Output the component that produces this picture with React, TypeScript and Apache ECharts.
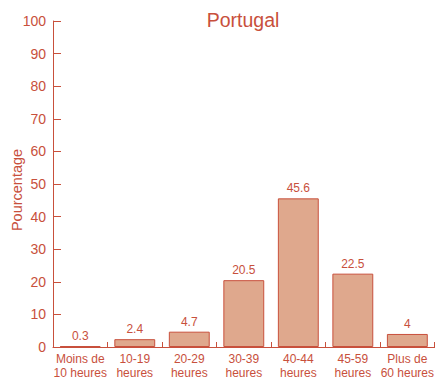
import React, { useEffect, useRef } from "react";
import * as echarts from "echarts";

const categories = [
  "Moins de\n10 heures",
  "10-19\nheures",
  "20-29\nheures",
  "30-39\nheures",
  "40-44\nheures",
  "45-59\nheures",
  "Plus de\n60 heures",
];
const values = [0.3, 2.4, 4.7, 20.5, 45.6, 22.5, 4];
const valueLabels = ["0.3", "2.4", "4.7", "20.5", "45.6", "22.5", "4"];

const RED = "#c8503c";
const FILL = "#dfa88d";
const FONT = "'Liberation Sans', Arial, Helvetica, sans-serif";

export default function App() {
  const ref = useRef<HTMLDivElement>(null);

  useEffect(() => {
    if (!ref.current) return;
    const chart = echarts.init(ref.current, undefined, { renderer: "svg" });
    chart.setOption({
      animation: false,
      backgroundColor: "#ffffff",
      graphic: [
        {
          type: "text",
          x: 243,
          y: 20,
          style: {
            text: "Portugal",
            fill: RED,
            fontSize: 19.5,
            fontFamily: FONT,
            align: "center",
            verticalAlign: "middle",
          },
        },
        {
          type: "text",
          x: 17,
          y: 190,
          rotation: Math.PI / 2,
          style: {
            text: "Pourcentage",
            fill: RED,
            fontSize: 14.5,
            fontFamily: FONT,
            align: "center",
            verticalAlign: "middle",
          },
        },
      ],
      grid: { left: 53, right: 2, top: 21, bottom: 38, containLabel: false },
      xAxis: {
        type: "category",
        data: categories,
        axisLine: { lineStyle: { color: RED, width: 1 } },
        axisTick: { show: true, inside: true, length: 5, alignWithLabel: false, lineStyle: { color: RED } },
        axisLabel: {
          color: RED,
          fontSize: 12,
          fontFamily: FONT,
          interval: 0,
          margin: 5,
          lineHeight: 14,
        },
      },
      yAxis: {
        type: "value",
        min: 0,
        max: 100,
        interval: 10,
        splitLine: { show: false },
        axisLine: { show: true, lineStyle: { color: RED, width: 1 } },
        axisTick: { show: true, inside: true, length: 8, lineStyle: { color: RED } },
        axisLabel: { color: RED, fontSize: 14, fontFamily: FONT, margin: 7 },
      },
      series: [
        {
          type: "bar",
          data: values,
          barCategoryGap: "25%",
          itemStyle: { color: FILL, borderColor: RED, borderWidth: 1 },
          label: {
            show: true,
            position: "top",
            distance: 4,
            color: RED,
            fontSize: 12,
            fontFamily: FONT,
            formatter: (p: any) => valueLabels[p.dataIndex],
          },
        },
      ],
    });
    return () => chart.dispose();
  }, []);

  return (
    <div
      ref={ref}
      style={{ position: "fixed", left: 0, top: 0, width: 437, height: 385 }}
    />
  );
}
